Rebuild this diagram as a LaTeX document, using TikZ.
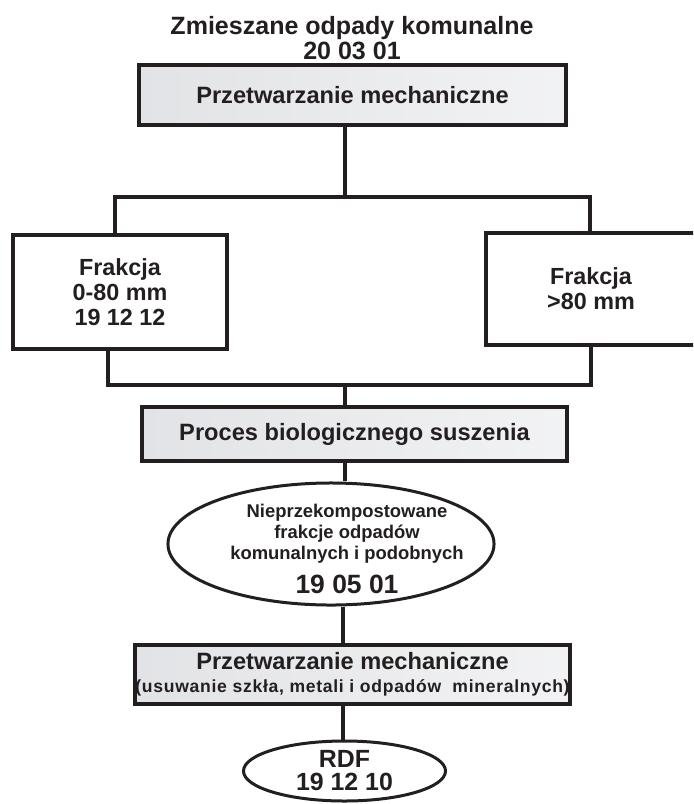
\documentclass[tikz,border=0pt]{standalone}
\usepackage{fontspec}
\setmainfont{Liberation Sans}
\usetikzlibrary{shapes.geometric}
\definecolor{gray150}{HTML}{E2E3E6}
\definecolor{ink}{HTML}{231F20}
\tikzstyle{box}=[rectangle, draw=ink, line width=0.1cm, left color=gray150, right color=gray150!45, inner sep=0pt, align=center]
\tikzstyle{frakcja}=[rectangle, draw=ink, line width=0.1cm, fill=white, inner sep=0pt, align=center, font=\bfseries\fontsize{16.6}{17.7}\selectfont]
\tikzstyle{owal}=[ellipse, draw=ink, line width=0.075cm, fill=white, inner sep=0pt, align=center]

\begin{document}
\begin{tikzpicture}[x=0.025cm, y=-0.025cm, line width=0.1cm, text=ink]
	\clip (0,0) rectangle (693,804);
	\node[align=center, font=\bfseries\fontsize{17.8}{17.7}\selectfont] (tytul) at (352,38) {Zmieszane odpady komunalne\\20 03 01};
	\node[box, minimum width=10.675cm, minimum height=1.5cm, font=\bfseries\fontsize{16.8}{18}\selectfont] (przetw1) at (352.5,95) {Przetwarzanie mechaniczne};
	\node[frakcja, minimum width=5.35cm, minimum height=2.85cm] (frakcja1) at (120,292) {Frakcja\\0-80 mm\\19 12 12};
	\node[frakcja, minimum width=5.25cm, minimum height=2.8cm] (frakcja2) at (591,289) {Frakcja\\>80 mm};
	\node[box, minimum width=10.625cm, minimum height=1.35cm, font=\bfseries\fontsize{16.8}{18}\selectfont] (proces) at (354.5,434) {Proces biologicznego suszenia};
	\node[owal, minimum width=8.15cm, minimum height=3.05cm] (nieprzek) at (331,544) {};
	\node[align=center, font=\bfseries\fontsize{13.1}{14.9}\selectfont] (nieprzektxt) at (347,549) {Nieprzekompostowane\\frakcje odpadów\\komunalnych i podobnych\\[8pt]{\fontsize{18.8}{20}\selectfont 19 05 01}};
	\node[box, minimum width=10.675cm, minimum height=1.475cm, font=\bfseries\fontsize{16.8}{16.3}\selectfont] (przetw2) at (352.5,674.5) {Przetwarzanie mechaniczne\\{\fontsize{12.5}{14}\selectfont\addfontfeature{LetterSpace=4}(usuwanie szkła, metali i odpadów~ mineralnych)}};
	\node[owal, minimum width=5.05cm, minimum height=1.5cm, font=\bfseries\fontsize{17.7}{16.3}\selectfont] (rdf) at (344.5,771) {RDF\\19 12 10};
	\coordinate (g1) at (345,197);
	\coordinate (g1l) at (115,197);
	\coordinate (g1p) at (590,197);
	\coordinate (g2) at (345,385);
	\coordinate (g2l) at (108,385);
	\coordinate (g2p) at (591,385);
	\coordinate (g3) at (343,620);
	\path[draw=ink] (przetw1.south -| g1)--(g1)
		(g1l |- frakcja1.north)--(g1l)--(g1p)--(g1p |- frakcja2.north)
		(frakcja1.south -| g2l)--(g2l)--(g2p)--(g2p |- frakcja2.south)
		(g2)--(g2 |- proces.north)
		(proces.south -| g2)--(g2 |- nieprzek.north)
		(nieprzek.south -| g3)--(g3 |- przetw2.north)
		(przetw2.south -| g3)--(g3 |- rdf.north);
\end{tikzpicture}
\end{document}
